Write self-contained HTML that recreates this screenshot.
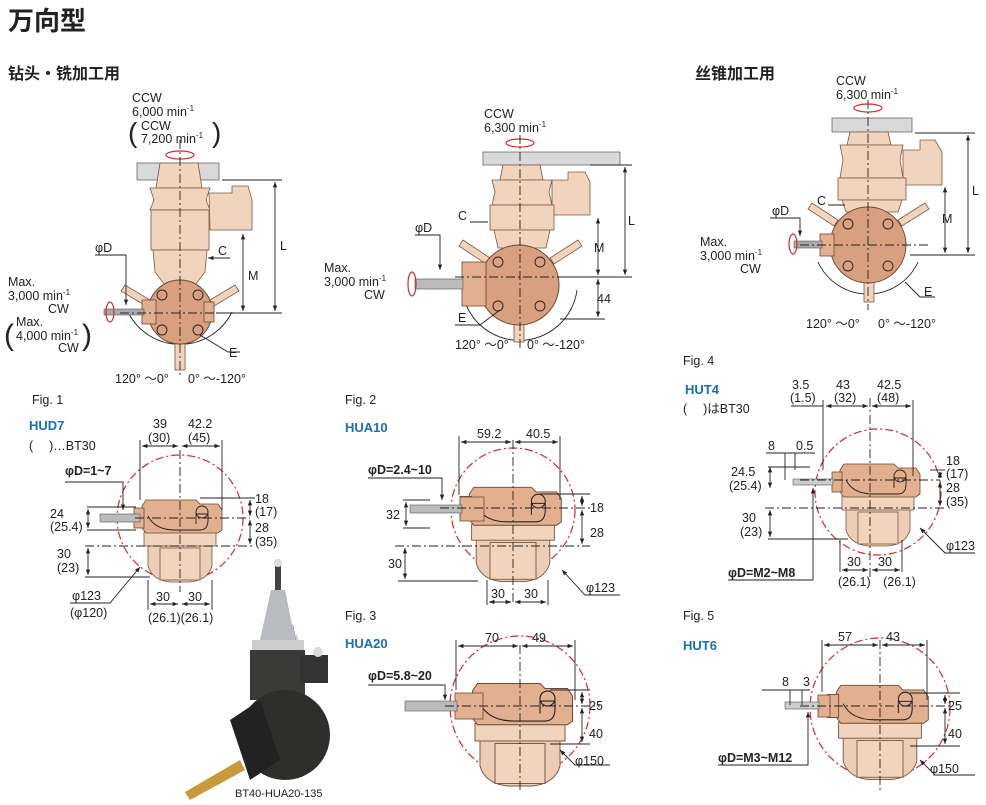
<!DOCTYPE html>
<html><head><meta charset="utf-8"><style>
body{margin:0;background:#fff}
svg{display:block}
text{font-family:"Liberation Sans","Noto Sans CJK JP",sans-serif;fill:#222}
.d{font-size:12.5px}
.s{font-size:8px}
.b{font-weight:bold}
.bl{fill:#1a6fb5;font-weight:bold;font-size:13px}
.ln{stroke:#222;stroke-width:0.9;fill:none}
.cl{stroke:#222;stroke-width:0.9;fill:none;stroke-dasharray:9 3 2 3}
.rc{stroke:#d42a2a;stroke-width:1.2;fill:none;stroke-dasharray:8 3 2 3}
.bd{fill:#e2b08e;stroke:#6b4a35;stroke-width:0.8}
.lt{fill:#f2d3bb;stroke:#7a5a45;stroke-width:0.8}
.sk{fill:#edcdb5;stroke:#7a5a45;stroke-width:0.8}
.gr{fill:#d9d9d9;stroke:#666;stroke-width:0.8}
</style></head><body>
<svg width="986" height="805" viewBox="0 0 986 805" xmlns="http://www.w3.org/2000/svg">
<defs>
<marker id="a" viewBox="0 0 10 10" refX="10" refY="5" markerWidth="6" markerHeight="6" orient="auto-start-reverse"><path d="M0,1 L10,5 L0,9z" fill="#222"/></marker>
<g id="head">
  <path class="sk" d="M-32,27 L32,27 L32,48 Q28,62 10,64 L-10,64 Q-28,62 -32,48z"/>
  <rect class="lt" x="-20" y="30" width="40" height="32" fill="#f0d3be"/>
  <rect class="lt" x="-36" y="14" width="72" height="14"/>
  <path class="bd" d="M-34,-18 L16,-18 L20,-14 L38,-14 L42,-8 L42,12 L38,15 L-34,15 L-38,10 L-38,-12z"/>
  <rect class="bd" x="-46" y="-10" width="10" height="20"/>
  <path class="ln" d="M-32,-2 Q-25,12 -5,12 L20,12 Q28,12 28,2 L28,-4 L16,-4 L16,6" stroke="#6b4a35"/>
  <circle cx="22" cy="-6" r="6" class="ln" stroke="#6b4a35"/>
</g>
</defs>

<!-- titles -->
<text x="8" y="30" style="font-size:26px;font-weight:bold">万向型</text>
<text x="8" y="79" style="font-size:16px;font-weight:bold">钻头・铣加工用</text>
<text x="695" y="79" style="font-size:16px;font-weight:bold">丝锥加工用</text>

<!-- ===== Top Fig1 3D view ===== -->
<text class="d" x="132" y="102">CCW</text>
<text class="d" x="132" y="116">6,000 min<tspan class="s" dy="-5">-1</tspan></text>
<text x="128" y="142" style="font-size:28px;font-weight:300">(</text>
<text x="212" y="142" style="font-size:28px;font-weight:300">)</text>
<text class="d" x="141" y="130">CCW</text>
<text class="d" x="141" y="143">7,200 min<tspan class="s" dy="-5">-1</tspan></text>
<ellipse cx="180" cy="155" rx="14" ry="4" fill="none" stroke="#d42a2a" stroke-width="1.2"/>
<rect class="gr" x="137" y="163" width="82" height="17"/>
<path class="lt" d="M160,163 L198,163 L202,188 L156,188z"/>
<path class="lt" d="M150,188 L210,188 L206,200 L210,210 L150,210 L154,200z"/>
<path class="lt" d="M209,193 L232,193 L232,186 L248,186 L252,200 L252,230 L210,230z"/>
<rect class="lt" x="151" y="210" width="58" height="40"/>
<path class="lt" d="M153,250 L207,250 L205,272 L195,285 L165,285 L155,272z"/>
<path class="ln" d="M128,312 A58,58 0 0 0 232,312" />
<path class="lt" d="M125,285 L150,300 L146,306 L121,291z"/>
<path class="lt" d="M235,285 L210,300 L214,306 L239,291z"/>
<rect class="lt" x="175" y="340" width="10" height="30"/>
<circle cx="180" cy="312" r="32" fill="#d8a07e" stroke="#6b4a35"/>
<circle cx="162" cy="295" r="5" class="ln"/><circle cx="198" cy="295" r="5" class="ln"/>
<circle cx="162" cy="330" r="5" class="ln"/><circle cx="198" cy="330" r="5" class="ln"/>
<rect class="bd" x="142" y="300" width="14" height="24"/>
<rect class="bd" x="204" y="302" width="10" height="20"/>
<rect x="104" y="309" width="40" height="6" fill="#aaa" stroke="#555" stroke-width=".6"/>
<ellipse cx="110" cy="312" rx="4" ry="10" fill="none" stroke="#d42a2a" stroke-width="1.2"/>
<line class="cl" x1="180" y1="140" x2="180" y2="378"/>
<line class="cl" x1="120" y1="313" x2="245" y2="313"/>
<line class="ln" x1="222" y1="180" x2="282" y2="180"/>
<line class="ln" x1="216" y1="313" x2="282" y2="313"/>
<line class="ln" x1="275" y1="182" x2="275" y2="311" marker-start="url(#a)" marker-end="url(#a)"/>
<text class="d" x="280" y="250">L</text>
<line class="ln" x1="243" y1="234" x2="243" y2="311" marker-start="url(#a)" marker-end="url(#a)"/>
<text class="d" x="248" y="280">M</text>
<line class="ln" x1="208" y1="258" x2="230" y2="258" marker-start="url(#a)"/>
<text class="d" x="218" y="255">C</text>
<path class="ln" d="M200,335 L228,352 L240,352"/>
<text class="d" x="229" y="357">E</text>
<path class="ln" d="M95,255 L126,255 L126,305" marker-end="url(#a)"/>
<text class="d" x="95" y="252">φD</text>
<text class="d" x="8" y="286">Max.</text>
<text class="d" x="8" y="300">3,000 min<tspan class="s" dy="-5">-1</tspan></text>
<text class="d" x="48" y="313">CW</text>
<text x="4" y="345" style="font-size:30px;font-weight:300">(</text>
<text x="82" y="345" style="font-size:30px;font-weight:300">)</text>
<text class="d" x="16" y="326">Max.</text>
<text class="d" x="16" y="340">4,000 min<tspan class="s" dy="-5">-1</tspan></text>
<text class="d" x="58" y="352">CW</text>
<text class="d" x="115" y="383">120° ～0°</text>
<text class="d" x="188" y="383">0° ～-120°</text>

<!-- ===== Top Fig2 3D view ===== -->
<text class="d" x="484" y="118">CCW</text>
<text class="d" x="484" y="132">6,300 min<tspan class="s" dy="-5">-1</tspan></text>
<ellipse cx="520" cy="143" rx="14" ry="4" fill="none" stroke="#d42a2a" stroke-width="1.2"/>
<rect class="gr" x="483" y="152" width="137" height="13"/>
<path class="lt" d="M503,165 L540,165 L543,180 L500,180z"/>
<path class="lt" d="M492,180 L552,180 L549,192 L552,205 L492,205 L495,192z"/>
<path class="lt" d="M552,180 L568,180 L568,172 L585,172 L590,182 L590,215 L552,215z"/>
<rect class="lt" x="490" y="205" width="64" height="25"/>
<path class="lt" d="M494,230 L550,230 L546,248 L498,248z"/>
<path class="ln" d="M462,290 A58,58 0 0 0 577,290"/>
<path class="lt" d="M463,240 L490,258 L486,264 L459,246z"/>
<path class="lt" d="M578,240 L550,258 L554,264 L582,246z"/>
<rect class="lt" x="514" y="320" width="10" height="22"/>
<circle cx="519" cy="285" r="40" fill="#d8a07e" stroke="#6b4a35"/>
<circle cx="498" cy="262" r="5" class="ln"/><circle cx="540" cy="262" r="5" class="ln"/>
<circle cx="498" cy="306" r="5" class="ln"/><circle cx="540" cy="306" r="5" class="ln"/>
<rect class="bd" x="462" y="262" width="24" height="44"/>
<rect x="415" y="279" width="48" height="10" fill="#bbb" stroke="#555" stroke-width=".6"/>
<ellipse cx="412" cy="284" rx="4" ry="12" fill="none" stroke="#d42a2a" stroke-width="1.2"/>
<line class="cl" x1="520" y1="135" x2="520" y2="350"/>
<line class="cl" x1="455" y1="277" x2="590" y2="277"/>
<line class="ln" x1="590" y1="165" x2="632" y2="165"/>
<line class="ln" x1="560" y1="277" x2="632" y2="277"/>
<line class="ln" x1="560" y1="319" x2="605" y2="319"/>
<line class="ln" x1="625" y1="167" x2="625" y2="275" marker-start="url(#a)" marker-end="url(#a)"/>
<text class="d" x="628" y="225">L</text>
<line class="ln" x1="598" y1="218" x2="598" y2="275" marker-start="url(#a)" marker-end="url(#a)"/>
<text class="d" x="594" y="252">M</text>
<line class="ln" x1="598" y1="279" x2="598" y2="317" marker-start="url(#a)" marker-end="url(#a)"/>
<text class="d" x="597" y="303">44</text>
<line class="ln" x1="470" y1="222" x2="488" y2="222"/>
<text class="d" x="458" y="220">C</text>
<path class="ln" d="M415,235 L440,235 L440,270" marker-end="url(#a)"/>
<text class="d" x="415" y="232">φD</text>
<path class="ln" d="M455,325 L480,325 L500,310"/>
<text class="d" x="458" y="322">E</text>
<text class="d" x="324" y="272">Max.</text>
<text class="d" x="324" y="286">3,000 min<tspan class="s" dy="-5">-1</tspan></text>
<text class="d" x="364" y="299">CW</text>
<text class="d" x="455" y="349">120° ～0°</text>
<text class="d" x="527" y="349">0° ～-120°</text>

<!-- ===== Top Fig4 3D view ===== -->
<text class="d" x="836" y="85">CCW</text>
<text class="d" x="836" y="99">6,300 min<tspan class="s" dy="-5">-1</tspan></text>
<ellipse cx="868" cy="108" rx="14" ry="4" fill="none" stroke="#d42a2a" stroke-width="1.2"/>
<rect class="gr" x="832" y="118" width="80" height="14"/>
<path class="lt" d="M850,132 L888,132 L891,145 L847,145z"/>
<path class="lt" d="M840,145 L903,145 L900,160 L903,178 L840,178 L843,160z"/>
<path class="lt" d="M903,150 L920,150 L920,140 L935,140 L942,152 L942,185 L903,185z"/>
<rect class="lt" x="838" y="178" width="68" height="22"/>
<path class="lt" d="M842,200 L902,200 L898,212 L846,212z"/>
<path class="ln" d="M818,262 A55,55 0 0 0 918,262"/>
<path class="lt" d="M812,203 L838,220 L834,226 L808,209z"/>
<path class="lt" d="M925,203 L898,220 L902,226 L929,209z"/>
<rect class="lt" x="864" y="280" width="10" height="22"/>
<circle cx="868" cy="245" r="38" fill="#d8a07e" stroke="#6b4a35"/>
<circle cx="848" cy="224" r="5" class="ln"/><circle cx="888" cy="224" r="5" class="ln"/>
<circle cx="848" cy="266" r="5" class="ln"/><circle cx="888" cy="266" r="5" class="ln"/>
<rect class="bd" x="820" y="234" width="14" height="22"/>
<rect x="794" y="241" width="28" height="7" fill="#aaa" stroke="#555" stroke-width=".6"/>
<ellipse cx="793" cy="244" rx="4" ry="10" fill="none" stroke="#d42a2a" stroke-width="1.2"/>
<line class="cl" x1="868" y1="100" x2="868" y2="310"/>
<line class="cl" x1="800" y1="245" x2="930" y2="245"/>
<line class="ln" x1="915" y1="133" x2="975" y2="133"/>
<line class="ln" x1="910" y1="255" x2="975" y2="255"/>
<line class="ln" x1="968" y1="135" x2="968" y2="253" marker-start="url(#a)" marker-end="url(#a)"/>
<text class="d" x="972" y="195">L</text>
<line class="ln" x1="945" y1="187" x2="945" y2="253" marker-start="url(#a)" marker-end="url(#a)"/>
<text class="d" x="942" y="223">M</text>
<line class="ln" x1="828" y1="205" x2="845" y2="205"/>
<text class="d" x="817" y="205">C</text>
<path class="ln" d="M770,218 L800,218 L800,236" marker-end="url(#a)"/>
<text class="d" x="772" y="215">φD</text>
<path class="ln" d="M905,282 L920,297 L935,297"/>
<text class="d" x="924" y="296">E</text>
<text class="d" x="700" y="246">Max.</text>
<text class="d" x="700" y="260">3,000 min<tspan class="s" dy="-5">-1</tspan></text>
<text class="d" x="740" y="273">CW</text>
<text class="d" x="806" y="328">120° ～0°</text>
<text class="d" x="878" y="328">0° ～-120°</text>

<!-- ===== Fig1 HUD7 ===== -->
<text class="d" x="32" y="404">Fig. 1</text>
<text class="bl" x="29" y="430">HUD7</text>
<text class="d" x="29" y="450">(　 )…BT30</text>
<circle class="rc" cx="180" cy="518" r="63"/>
<use href="#head" x="180" y="518"/>
<rect x="100" y="514" width="40" height="8" fill="#bbb" stroke="#555" stroke-width=".6"/>
<line class="cl" x1="180" y1="450" x2="180" y2="592"/>
<line class="cl" x1="135" y1="518" x2="250" y2="518"/>
<line class="cl" x1="85" y1="546" x2="255" y2="546"/>
<line class="ln" x1="140" y1="440" x2="140" y2="500"/><line class="ln" x1="222" y1="440" x2="222" y2="510"/>
<line class="ln" x1="142" y1="446" x2="178" y2="446" marker-start="url(#a)" marker-end="url(#a)"/>
<line class="ln" x1="182" y1="446" x2="220" y2="446" marker-start="url(#a)" marker-end="url(#a)"/>
<text class="d" x="153" y="428">39</text><text class="d" x="148" y="442">(30)</text>
<text class="d" x="188" y="428">42.2</text><text class="d" x="188" y="442">(45)</text>
<path class="ln" d="M65,482 L123,482 L123,510" marker-end="url(#a)"/>
<text class="d b" x="65" y="475">φD=1~7</text>
<line class="ln" x1="87" y1="507" x2="136" y2="507"/><line class="ln" x1="87" y1="530" x2="136" y2="530"/>
<line class="ln" x1="88" y1="509" x2="88" y2="528" marker-start="url(#a)" marker-end="url(#a)"/>
<text class="d" x="50" y="518">24</text><text class="d" x="50" y="531">(25.4)</text>
<line class="ln" x1="200" y1="498" x2="255" y2="498"/>
<line class="ln" x1="250" y1="500" x2="250" y2="516" marker-start="url(#a)" marker-end="url(#a)"/>
<line class="ln" x1="250" y1="520" x2="250" y2="544" marker-start="url(#a)" marker-end="url(#a)"/>
<text class="d" x="255" y="503">18</text><text class="d" x="255" y="516">(17)</text>
<text class="d" x="255" y="532">28</text><text class="d" x="255" y="546">(35)</text>
<line class="ln" x1="85" y1="577" x2="150" y2="577"/>
<line class="ln" x1="88" y1="548" x2="88" y2="575" marker-start="url(#a)" marker-end="url(#a)"/>
<text class="d" x="57" y="558">30</text><text class="d" x="57" y="572">(23)</text>
<line class="ln" x1="148" y1="580" x2="148" y2="610"/><line class="ln" x1="212" y1="580" x2="212" y2="610"/>
<line class="ln" x1="150" y1="604" x2="178" y2="604" marker-start="url(#a)" marker-end="url(#a)"/>
<line class="ln" x1="182" y1="604" x2="210" y2="604" marker-start="url(#a)" marker-end="url(#a)"/>
<text class="d" x="156" y="601">30</text><text class="d" x="188" y="601">30</text>
<text class="d" x="148" y="622">(26.1)(26.1)</text>
<path class="ln" d="M70,603 L110,603 L140,567" marker-end="url(#a)"/>
<text class="d" x="72" y="600">φ123</text><text class="d" x="70" y="617">(φ120)</text>

<!-- photo -->
<path d="M263,635 L290,635 L297,635 L305,660 L297,640z" fill="#ccc"/>
<path d="M265,625 L293,625 L300,665 L258,665z" fill="#c8cbd0" stroke="#888" stroke-width=".5"/>
<rect x="275" y="565" width="6" height="30" fill="#444"/><circle cx="278" cy="563" r="4" fill="#ddd"/>
<path d="M271,590 L285,590 L295,640 L260,640z" fill="#b8bcc2"/>
<rect x="252" y="640" width="52" height="10" fill="#ccc"/>
<rect x="250" y="650" width="55" height="50" fill="#3a3a38"/>
<rect x="300" y="655" width="28" height="28" fill="#333"/>
<circle cx="318" cy="652" r="5" fill="#ddd"/>
<ellipse cx="285" cy="735" rx="45" ry="45" fill="#2e2e2c"/>
<path d="M230,720 L260,700 L280,760 L250,780z" fill="#222"/>
<path d="M185,792 L240,760 L245,770 L190,800z" fill="#c99a3a"/>
<text class="d" x="235" y="797" style="font-size:11px">BT40-HUA20-135</text>

<!-- ===== Fig2 HUA10 ===== -->
<text class="d" x="345" y="404">Fig. 2</text>
<text class="bl" x="345" y="432">HUA10</text>
<circle class="rc" cx="513" cy="510" r="62"/>
<use href="#head" x="513" y="508" transform="translate(513 508) scale(1.15) translate(-513 -508)"/>
<rect class="bd" x="460" y="497" width="24" height="24"/>
<rect x="410" y="505" width="52" height="8" fill="#bbb" stroke="#555" stroke-width=".6"/>
<line class="cl" x1="513" y1="440" x2="513" y2="605"/>
<line class="cl" x1="440" y1="508" x2="590" y2="508"/>
<line class="cl" x1="395" y1="546" x2="590" y2="546"/>
<line class="ln" x1="459" y1="436" x2="459" y2="495"/><line class="ln" x1="560" y1="436" x2="560" y2="500"/>
<line class="ln" x1="461" y1="442" x2="511" y2="442" marker-start="url(#a)" marker-end="url(#a)"/>
<line class="ln" x1="515" y1="442" x2="558" y2="442" marker-start="url(#a)" marker-end="url(#a)"/>
<text class="d" x="477" y="438">59.2</text><text class="d" x="526" y="438">40.5</text>
<path class="ln" d="M368,478 L442,478 L442,500" marker-end="url(#a)"/>
<text class="d b" x="368" y="474">φD=2.4~10</text>
<line class="ln" x1="403" y1="500" x2="430" y2="500"/><line class="ln" x1="403" y1="528" x2="430" y2="528"/>
<line class="ln" x1="406" y1="502" x2="406" y2="526" marker-start="url(#a)" marker-end="url(#a)"/>
<text class="d" x="386" y="519">32</text>
<line class="ln" x1="540" y1="494" x2="590" y2="494"/>
<line class="ln" x1="582" y1="496" x2="582" y2="506" marker-start="url(#a)" marker-end="url(#a)"/>
<line class="ln" x1="582" y1="510" x2="582" y2="544" marker-start="url(#a)" marker-end="url(#a)"/>
<text class="d" x="590" y="512">18</text><text class="d" x="590" y="537">28</text>
<line class="ln" x1="398" y1="581" x2="478" y2="581"/>
<line class="ln" x1="405" y1="548" x2="405" y2="579" marker-start="url(#a)" marker-end="url(#a)"/>
<text class="d" x="388" y="568">30</text>
<line class="ln" x1="487" y1="580" x2="487" y2="605"/><line class="ln" x1="548" y1="580" x2="548" y2="605"/>
<line class="ln" x1="489" y1="602" x2="511" y2="602" marker-start="url(#a)" marker-end="url(#a)"/>
<line class="ln" x1="515" y1="602" x2="546" y2="602" marker-start="url(#a)" marker-end="url(#a)"/>
<text class="d" x="491" y="598">30</text><text class="d" x="524" y="598">30</text>
<path class="ln" d="M620,595 L585,595 L562,570" marker-end="url(#a)"/>
<text class="d" x="586" y="592">φ123</text>

<!-- ===== Fig3 HUA20 ===== -->
<text class="d" x="345" y="620">Fig. 3</text>
<text class="bl" x="345" y="648">HUA20</text>
<circle class="rc" cx="520" cy="706" r="70"/>
<use href="#head" transform="translate(520 706) scale(1.25)"/>
<rect class="bd" x="455" y="693" width="28" height="26"/>
<rect x="405" y="701" width="52" height="10" fill="#bbb" stroke="#555" stroke-width=".6"/>
<line class="cl" x1="520" y1="645" x2="520" y2="790"/>
<line class="cl" x1="445" y1="706" x2="600" y2="706"/>
<line class="ln" x1="456" y1="640" x2="456" y2="690"/><line class="ln" x1="575" y1="640" x2="575" y2="700"/>
<line class="ln" x1="458" y1="646" x2="518" y2="646" marker-start="url(#a)" marker-end="url(#a)"/>
<line class="ln" x1="522" y1="646" x2="573" y2="646" marker-start="url(#a)" marker-end="url(#a)"/>
<text class="d" x="485" y="642">70</text><text class="d" x="532" y="642">49</text>
<path class="ln" d="M368,685 L445,685 L445,700" marker-end="url(#a)"/>
<text class="d b" x="368" y="680">φD=5.8~20</text>
<line class="ln" x1="550" y1="690" x2="590" y2="690"/>
<line class="ln" x1="550" y1="744" x2="590" y2="744"/>
<line class="ln" x1="582" y1="692" x2="582" y2="704" marker-start="url(#a)" marker-end="url(#a)"/>
<line class="ln" x1="582" y1="708" x2="582" y2="742" marker-start="url(#a)" marker-end="url(#a)"/>
<text class="d" x="589" y="710">25</text><text class="d" x="589" y="738">40</text>
<path class="ln" d="M610,765 L575,765 L560,750" marker-end="url(#a)"/>
<text class="d" x="575" y="765">φ150</text>

<!-- ===== Fig4 HUT4 ===== -->
<text class="d" x="683" y="365">Fig. 4</text>
<text class="bl" x="685" y="394">HUT4</text>
<text class="d" x="683" y="413">(　 )はBT30</text>
<circle class="rc" cx="878" cy="492" r="63"/>
<use href="#head" x="878" y="482"/>
<rect x="793" y="479" width="40" height="6" fill="#ccc" stroke="#555" stroke-width=".6"/>
<line class="cl" x1="870" y1="398" x2="870" y2="580"/>
<line class="cl" x1="800" y1="480" x2="940" y2="480"/>
<line class="cl" x1="765" y1="508" x2="945" y2="508"/>
<line class="ln" x1="823" y1="400" x2="823" y2="470"/><line class="ln" x1="913" y1="400" x2="913" y2="476"/>
<line class="ln" x1="791" y1="406" x2="823" y2="406"/>
<line class="ln" x1="826" y1="406" x2="868" y2="406" marker-start="url(#a)" marker-end="url(#a)"/>
<line class="ln" x1="872" y1="406" x2="911" y2="406" marker-start="url(#a)" marker-end="url(#a)"/>
<text class="d" x="792" y="389">3.5</text><text class="d" x="790" y="402">(1.5)</text>
<text class="d" x="836" y="389">43</text><text class="d" x="834" y="402">(32)</text>
<text class="d" x="877" y="389">42.5</text><text class="d" x="877" y="402">(48)</text>
<text class="d" x="768" y="450">8</text><text class="d" x="796" y="450">0.5</text>
<line class="ln" x1="766" y1="453" x2="815" y2="453"/>
<line class="ln" x1="785" y1="453" x2="785" y2="480"/><line class="ln" x1="795" y1="453" x2="795" y2="470"/>
<line class="ln" x1="768" y1="467" x2="810" y2="467" stroke="#999"/>
<line class="ln" x1="770" y1="467" x2="770" y2="488" marker-start="url(#a)" marker-end="url(#a)"/>
<text class="d" x="731" y="476">24.5</text><text class="d" x="729" y="490">(25.4)</text>
<line class="ln" x1="930" y1="470" x2="945" y2="470"/>
<line class="ln" x1="940" y1="472" x2="940" y2="478" marker-start="url(#a)" marker-end="url(#a)"/>
<line class="ln" x1="940" y1="482" x2="940" y2="506" marker-start="url(#a)" marker-end="url(#a)"/>
<text class="d" x="946" y="465">18</text><text class="d" x="946" y="478">(17)</text>
<text class="d" x="946" y="492">28</text><text class="d" x="946" y="506">(35)</text>
<line class="ln" x1="768" y1="539" x2="848" y2="539"/>
<line class="ln" x1="770" y1="510" x2="770" y2="537" marker-start="url(#a)" marker-end="url(#a)"/>
<text class="d" x="742" y="522">30</text><text class="d" x="740" y="536">(23)</text>
<line class="ln" x1="840" y1="540" x2="840" y2="572"/><line class="ln" x1="902" y1="540" x2="902" y2="572"/>
<line class="ln" x1="842" y1="570" x2="868" y2="570" marker-start="url(#a)" marker-end="url(#a)"/>
<line class="ln" x1="872" y1="570" x2="900" y2="570" marker-start="url(#a)" marker-end="url(#a)"/>
<text class="d" x="847" y="566">30</text><text class="d" x="878" y="566">30</text>
<text class="d" x="838" y="586">(26.1)　(26.1)</text>
<path class="ln" d="M728,580 L813,580 L813,488" marker-end="url(#a)"/>
<text class="d b" x="728" y="577">φD=M2~M8</text>
<path class="ln" d="M975,553 L945,553 L920,528" marker-end="url(#a)"/>
<text class="d" x="946" y="550">φ123</text>

<!-- ===== Fig5 HUT6 ===== -->
<text class="d" x="683" y="620">Fig. 5</text>
<text class="bl" x="683" y="650">HUT6</text>
<circle class="rc" cx="880" cy="708" r="70"/>
<use href="#head" transform="translate(880 706) scale(1.15)"/>
<rect class="bd" x="818" y="695" width="12" height="22"/>
<rect x="785" y="702" width="34" height="7" fill="#ccc" stroke="#555" stroke-width=".6"/>
<line class="cl" x1="880" y1="640" x2="880" y2="790"/>
<line class="cl" x1="800" y1="706" x2="950" y2="706"/>
<line class="ln" x1="822" y1="640" x2="822" y2="692"/><line class="ln" x1="927" y1="640" x2="927" y2="700"/>
<line class="ln" x1="824" y1="645" x2="878" y2="645" marker-start="url(#a)" marker-end="url(#a)"/>
<line class="ln" x1="882" y1="645" x2="925" y2="645" marker-start="url(#a)" marker-end="url(#a)"/>
<text class="d" x="838" y="641">57</text><text class="d" x="886" y="641">43</text>
<text class="d" x="782" y="686">8</text><text class="d" x="803" y="686">3</text>
<line class="ln" x1="762" y1="690" x2="810" y2="690"/>
<line class="ln" x1="790" y1="690" x2="790" y2="705"/><line class="ln" x1="802" y1="690" x2="802" y2="705"/>
<line class="ln" x1="910" y1="693" x2="960" y2="693"/>
<line class="ln" x1="910" y1="746" x2="960" y2="746"/>
<line class="ln" x1="945" y1="695" x2="945" y2="704" marker-start="url(#a)" marker-end="url(#a)"/>
<line class="ln" x1="945" y1="708" x2="945" y2="744" marker-start="url(#a)" marker-end="url(#a)"/>
<text class="d" x="948" y="710">25</text><text class="d" x="948" y="738">40</text>
<path class="ln" d="M718,765 L808,765 L808,712" marker-end="url(#a)"/>
<text class="d b" x="718" y="762">φD=M3~M12</text>
<path class="ln" d="M975,775 L935,775 L920,760" marker-end="url(#a)"/>
<text class="d" x="930" y="773">φ150</text>
</svg>
</body></html>
